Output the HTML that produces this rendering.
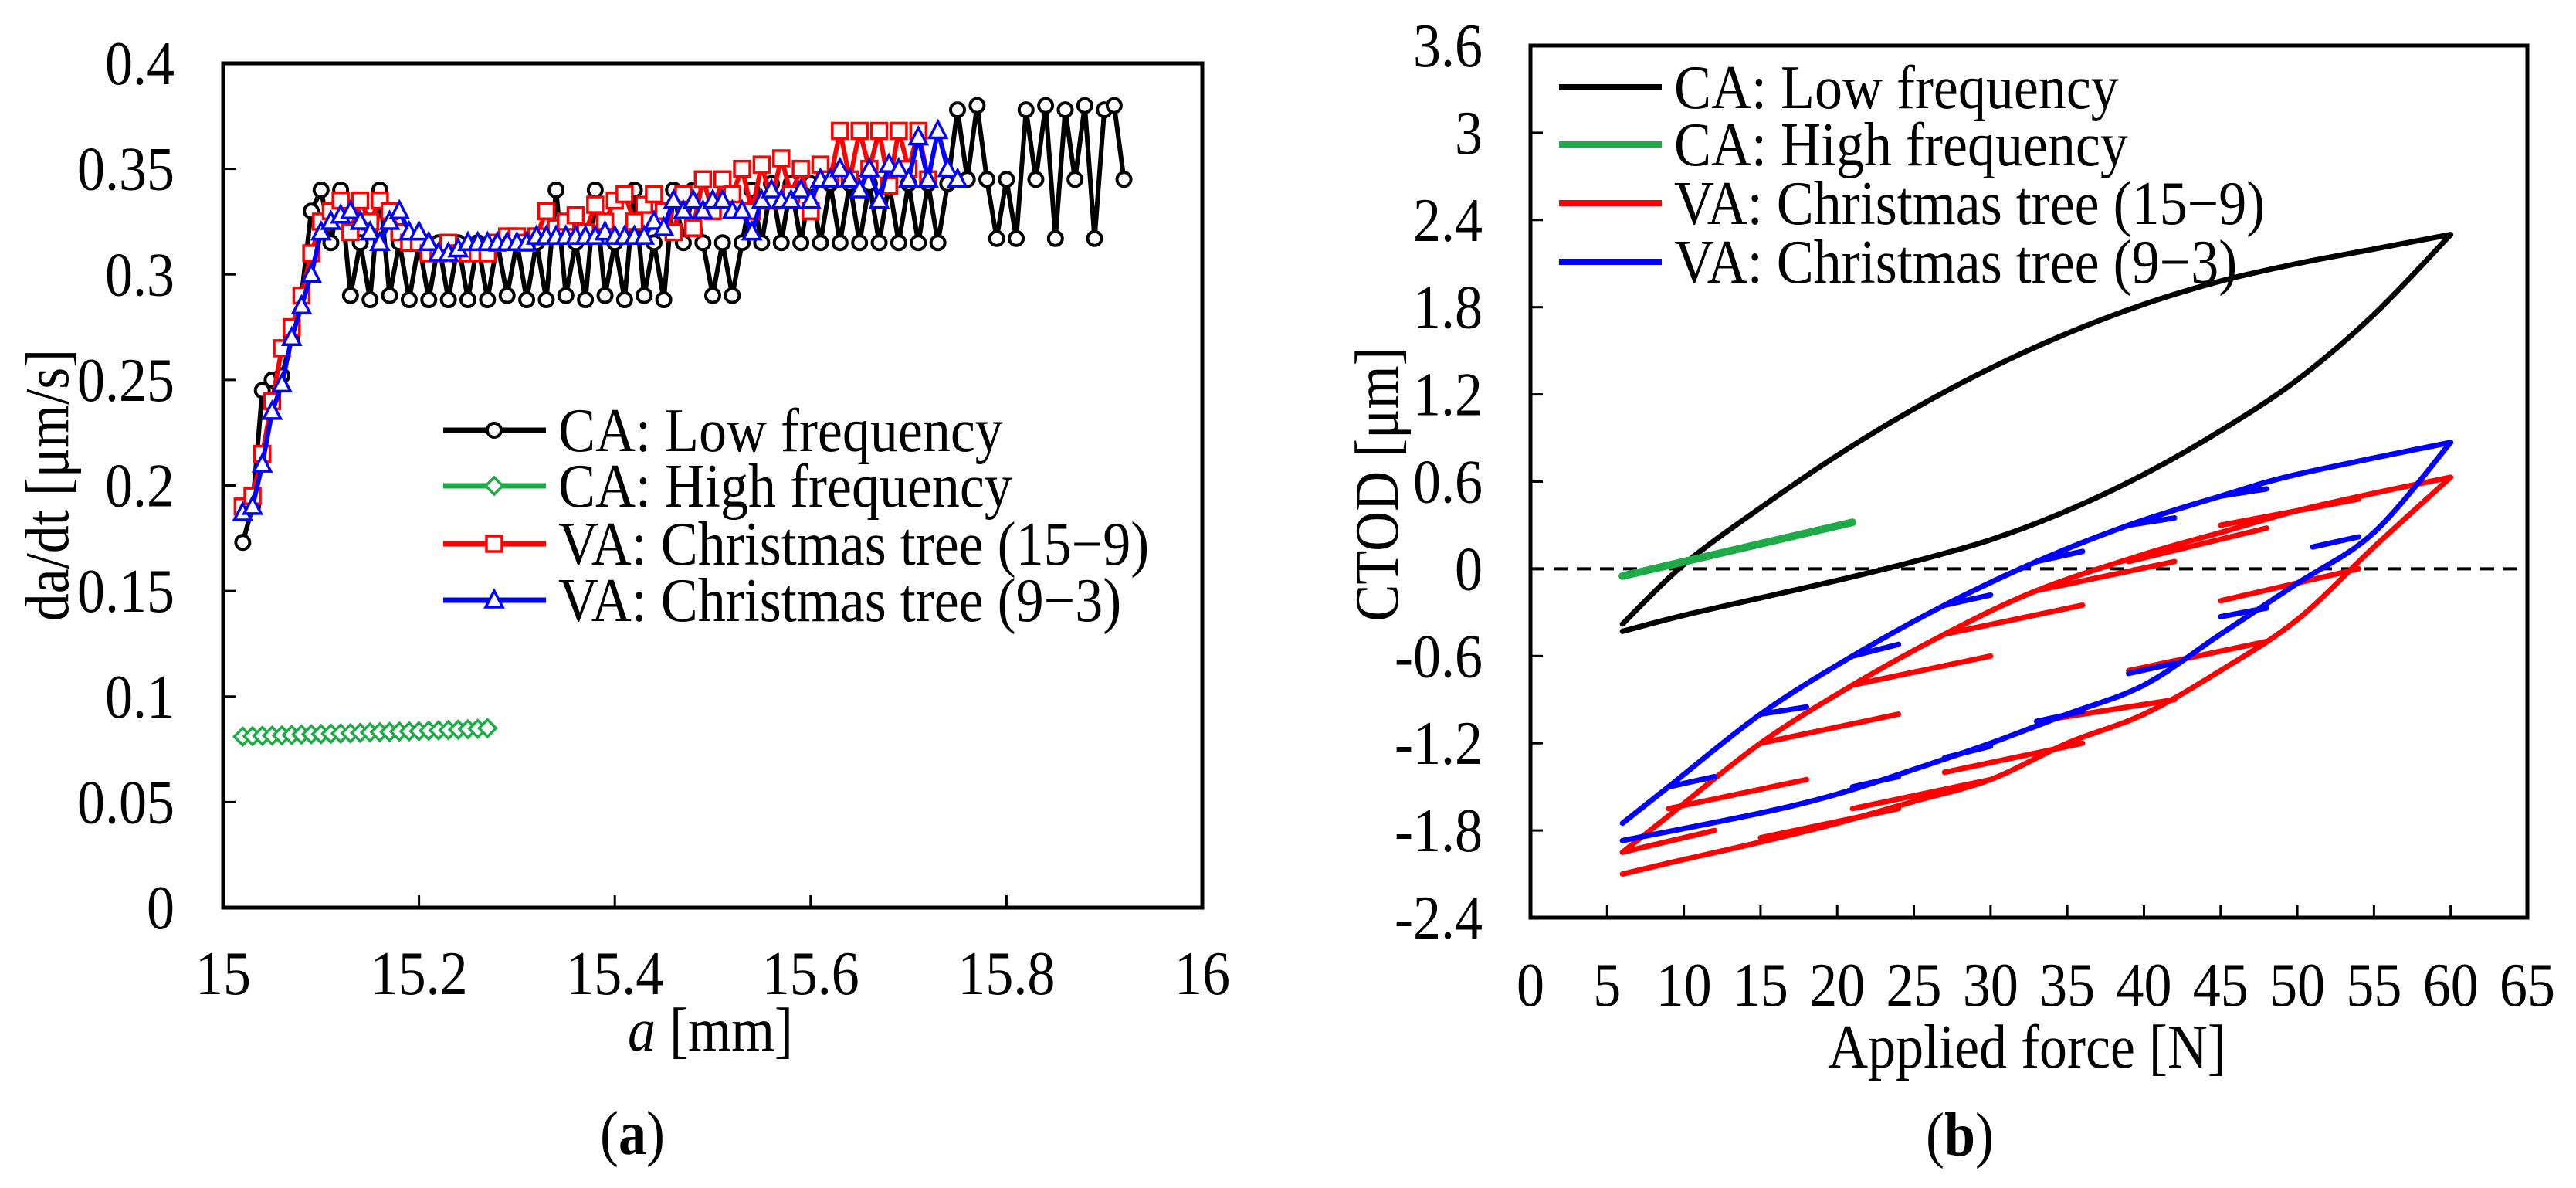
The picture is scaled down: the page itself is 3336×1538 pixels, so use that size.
<!DOCTYPE html>
<html><head><meta charset="utf-8">
<style>
html,body{margin:0;padding:0;background:#fff;}
svg{display:block;font-family:"Liberation Serif",serif;}
text{fill:#000;}
</style></head>
<body>
<svg id="svg" width="3336" height="1538" viewBox="0 0 3336 1538" xmlns="http://www.w3.org/2000/svg">
<g id="ga"></g>
<g id="gb"></g>
</svg>
<script>
// ---------- Chart (a) data ----------
const aXTicks = [15, 15.2, 15.4, 15.6, 15.8, 16];
const aXTickLabels = ["15", "15.2", "15.4", "15.6", "15.8", "16"];
const aYTicks = [0, 0.05, 0.1, 0.15, 0.2, 0.25, 0.3, 0.35, 0.4];
const aYTickLabels = ["0", "0.05", "0.1", "0.15", "0.2", "0.25", "0.3", "0.35", "0.4"];
const lowStart = 15.02, lowStep = 0.01;
const lowFreq = [0.173,0.19,0.245,0.25,0.252,0.27,0.29,0.33,0.34,0.315,0.34,0.29,0.315,0.288,0.34,0.29,0.315,0.288,0.315,0.288,0.315,0.288,0.315,0.288,0.315,0.288,0.315,0.29,0.315,0.288,0.315,0.288,0.34,0.29,0.315,0.288,0.34,0.29,0.315,0.288,0.34,0.29,0.315,0.288,0.34,0.315,0.34,0.315,0.29,0.315,0.29,0.315,0.34,0.315,0.343,0.315,0.343,0.315,0.343,0.315,0.343,0.315,0.343,0.315,0.343,0.315,0.343,0.315,0.343,0.315,0.343,0.315,0.343,0.378,0.345,0.38,0.345,0.317,0.345,0.317,0.378,0.345,0.38,0.317,0.378,0.345,0.38,0.317,0.378,0.38,0.345];
const highStart = 15.02, highStep = 0.01;
const highFreq = [0.081,0.0812,0.0814,0.0815,0.0816,0.0818,0.082,0.0821,0.0822,0.0824,0.0825,0.0826,0.0828,0.083,0.0831,0.0832,0.0834,0.0835,0.0836,0.0838,0.084,0.0841,0.0843,0.0845,0.0847,0.085];
const tree159Start = 15.02, tree159Step = 0.01;
const tree159 = [0.19,0.195,0.215,0.24,0.265,0.275,0.29,0.31,0.325,0.33,0.335,0.32,0.335,0.325,0.335,0.33,0.32,0.315,0.315,0.31,0.31,0.315,0.31,0.31,0.31,0.31,0.315,0.318,0.318,0.315,0.318,0.33,0.322,0.325,0.328,0.32,0.333,0.325,0.335,0.338,0.325,0.333,0.338,0.33,0.32,0.338,0.322,0.345,0.33,0.345,0.338,0.35,0.33,0.352,0.335,0.355,0.338,0.35,0.33,0.352,0.345,0.368,0.345,0.368,0.35,0.368,0.342,0.368,0.35,0.368,0.345];
const tree93Start = 15.02, tree93Step = 0.01;
const tree93 = [0.187,0.19,0.21,0.235,0.248,0.27,0.285,0.30,0.32,0.325,0.328,0.33,0.325,0.32,0.315,0.325,0.33,0.32,0.32,0.315,0.31,0.31,0.312,0.315,0.315,0.315,0.315,0.315,0.315,0.315,0.318,0.318,0.318,0.318,0.318,0.318,0.318,0.32,0.318,0.318,0.318,0.318,0.325,0.322,0.335,0.33,0.335,0.33,0.335,0.335,0.33,0.33,0.32,0.335,0.34,0.335,0.335,0.34,0.335,0.345,0.345,0.35,0.345,0.34,0.35,0.335,0.352,0.35,0.345,0.365,0.345,0.368,0.35,0.345];

// ---------- Chart (b) data ----------
const bXTicks = [0,5,10,15,20,25,30,35,40,45,50,55,60,65];
const bYTicks = [-2.4,-1.8,-1.2,-0.6,0,0.6,1.2,1.8,2.4,3,3.6];
const bYTickLabels = ["-2.4","-1.8","-1.2","-0.6","0","0.6","1.2","1.8","2.4","3","3.6"];
const caLowForce = [6,10,15,20,25,30,35,40,45,50,55,60,55,50,45,40,35,30,25,20,15,10,6];
const caLowCtod = [-0.38,0.03,0.42,0.78,1.1,1.38,1.62,1.82,1.98,2.1,2.2,2.3,1.75,1.3,0.95,0.65,0.4,0.2,0.05,-0.08,-0.2,-0.32,-0.43];
const caHighForce = [6,21];
const caHighCtod = [-0.05,0.32];
const redForce = [6,9,15,21,27,33,40,45,50,55,60,55,50,45,40,35,30,25,20,15,10,6];
const redCtod = [-1.95,-1.7,-1.2,-0.8,-0.45,-0.15,0.1,0.25,0.4,0.52,0.63,0.15,-0.35,-0.7,-1.0,-1.2,-1.45,-1.6,-1.75,-1.88,-2.0,-2.1];
const redSegF1 = [9,15,21,27,33,39,45,45,39,33,27,21,15,6];
const redSegC1 = [-1.65,-1.2,-0.8,-0.45,-0.15,0.05,0.3,-0.22,-0.7,-1.05,-1.4,-1.65,-1.85,-1.95];
const redSegF2 = [18,24,30,36,42,48,54,54,48,42,36,30,24,12];
const redSegC2 = [-1.45,-1.0,-0.6,-0.25,0.05,0.28,0.48,0.0,-0.5,-0.9,-1.2,-1.45,-1.65,-1.8];
const blueForce = [6,9,15,21,27,33,39,45,50,60,55,50,45,40,35,30,25,20,15,6];
const blueCtod = [-1.75,-1.5,-1.0,-0.6,-0.25,0.05,0.3,0.5,0.65,0.87,0.25,-0.1,-0.45,-0.8,-1.0,-1.2,-1.38,-1.55,-1.68,-1.87];
const blueSegF1 = [9,15,21,27,33,39,45,51,45,39,33,27,21];
const blueSegC1 = [-1.5,-1.0,-0.6,-0.25,0.05,0.3,0.5,0.15,-0.33,-0.72,-1.05,-1.3,-1.5];
const blueSegF2 = [12,18,24,30,36,42,48,54,48,42,36,30,24];
const blueSegC2 = [-1.43,-0.95,-0.52,-0.18,0.12,0.35,0.55,0.22,-0.27,-0.65,-0.98,-1.22,-1.43];

const NS = "http://www.w3.org/2000/svg";
function mk(tag, attrs, parent){const e=document.createElementNS(NS,tag);for(const k in attrs)e.setAttribute(k,attrs[k]);parent.appendChild(e);return e;}
const FS = 80;
const allTexts = [];
function txt(attrs,parent,content,html){const t=mk('text',attrs,parent);if(html)t.innerHTML=content;else t.textContent=content;allTexts.push(t);return t;}

// ===== Chart A =====
const ga = document.getElementById('ga');
const aL=289,aR=1557,aT=82,aB=1175;
const ax = v => aL + (v-15)/(16-15)*(aR-aL);
const ay = v => aB - (v-0)/(0.4)*(aB-aT);
aXTicks.forEach((t,i)=>{
  if(i>0 && i<aXTicks.length-1){const tk=mk('line',{x1:ax(t),x2:ax(t),y1:aB,y2:aB-16,stroke:'#000','stroke-width':3},ga);
  
  }
  const lb=txt({x:ax(t),y:1287,'font-size':FS,'text-anchor':'middle'},ga,aXTickLabels[i]);
  
  
});
aYTicks.forEach((t,i)=>{
  if(i>0 && i<aYTicks.length-1){const tk=mk('line',{x1:aL,x2:aL+16,y1:ay(t),y2:ay(t),stroke:'#000','stroke-width':3},ga);
  
  }
  const lb=txt({x:226,y:ay(t)+27,'font-size':FS,'text-anchor':'end'},ga,aYTickLabels[i]);
  
  
});
function seriesA(vals,start,step,color,marker,name){
  const g=mk('g',{},ga);
  
  
  const pts=vals.map((v,i)=>[ax(start+i*step),ay(v)]);
  mk('polyline',{points:pts.map(p=>p.join(',')).join(' '),fill:'none',stroke:color,'stroke-width':6,'stroke-linejoin':'round'},g);
  pts.forEach(p=>drawMarker(g,p[0],p[1],color,marker));
}
function drawMarker(g,x,y,color,marker){
  let m;
  if(marker==='circle') m=mk('circle',{cx:x,cy:y,r:9,fill:'#fff',stroke:color,'stroke-width':4},g);
  else if(marker==='diamond') m=mk('polygon',{points:`${x},${y-11} ${x+11},${y} ${x},${y+11} ${x-11},${y}`,fill:'#fff',stroke:color,'stroke-width':3.5},g);
  else if(marker==='square') m=mk('rect',{x:x-10,y:y-10,width:20,height:20,fill:'#fff',stroke:color,'stroke-width':3.5},g);
  else m=mk('polygon',{points:`${x},${y-12} ${x+11},${y+9} ${x-11},${y+9}`,fill:'#fff',stroke:color,'stroke-width':3.5},g);
  
  
}
seriesA(highFreq,highStart,highStep,'#1faa48','diamond','series-ca-high-frequency');
seriesA(lowFreq,lowStart,lowStep,'#000','circle','series-ca-low-frequency');
seriesA(tree159,tree159Start,tree159Step,'#ff0000','square','series-va-christmas-15-9');
seriesA(tree93,tree93Start,tree93Step,'#0000ff','triangle','series-va-christmas-9-3');
const aFrame=mk('rect',{x:aL,y:aT,width:aR-aL,height:aB-aT,fill:'none',stroke:'#000','stroke-width':5},ga);


const aLeg=[['CA: Low frequency','#000','circle'],['CA: High frequency','#1faa48','diamond'],['VA: Christmas tree (15\u22129)','#ff0000','square'],['VA: Christmas tree (9\u22123)','#0000ff','triangle']];
const aLegY=[557,629,704,777];
aLeg.forEach((e,i)=>{
  const g=mk('g',{},ga);
  
  
  mk('line',{x1:574,x2:707,y1:aLegY[i],y2:aLegY[i],stroke:e[1],'stroke-width':7},g);
  drawMarker(g,640,aLegY[i],e[1],e[2]);
  txt({x:723,y:aLegY[i]+27,'font-size':80},g,e[0]);
});
const aYT=txt({x:0,y:0,'font-size':FS,'text-anchor':'middle',transform:'translate(88,628) rotate(-90)'},ga,'da/dt [\u03bcm/s]');


const aXT=txt({x:920,y:1360,'font-size':FS,'text-anchor':'middle'},ga,'<tspan font-style="italic">a</tspan> [mm]',true);


const aCap=txt({x:819,y:1494,'font-size':FS,'text-anchor':'middle'},ga,'(<tspan font-weight="bold">a</tspan>)',true);



// ===== Chart B =====
const gb=document.getElementById('gb');
const bL=1982,bR=3273,bT=59,bB=1188;
const bx=v=>bL+(v-0)/65*(bR-bL);
const by=v=>bB-(v+2.4)/6.0*(bB-bT);
bXTicks.forEach(t=>{
  if(t>0&&t<65){const tk=mk('line',{x1:bx(t),x2:bx(t),y1:bB,y2:bB-16,stroke:'#000','stroke-width':3},gb);
  
  }
  const lb=txt({x:bx(t),y:1302,'font-size':FS,'text-anchor':'middle'},gb,String(t));
  
  
});
bYTicks.forEach((t,i)=>{
  if(i>0&&i<bYTicks.length-1){const tk=mk('line',{x1:bL,x2:bL+16,y1:by(t),y2:by(t),stroke:'#000','stroke-width':3},gb);
  
  }
  const lb=txt({x:1920,y:by(t)+27,'font-size':FS,'text-anchor':'end'},gb,bYTickLabels[i]);
  
  
});
const zl=mk('line',{x1:bL,x2:bR,y1:by(0),y2:by(0),stroke:'#000','stroke-width':4,'stroke-dasharray':'18,12'},gb);


function smoothD(pts){
  let d='M'+pts[0][0]+','+pts[0][1];
  for(let i=0;i<pts.length-1;i++){
    const p0=pts[Math.max(0,i-1)],p1=pts[i],p2=pts[i+1],p3=pts[Math.min(pts.length-1,i+2)];
    const c1=[p1[0]+(p2[0]-p0[0])/6,p1[1]+(p2[1]-p0[1])/6];
    const c2=[p2[0]-(p3[0]-p1[0])/6,p2[1]-(p3[1]-p1[1])/6];
    d+=` C${c1[0]},${c1[1]} ${c2[0]},${c2[1]} ${p2[0]},${p2[1]}`;
  }
  return d;
}
function lineB(fs,cs,color,name,w){
  const pts=fs.map((f,i)=>[bx(f),by(cs[i])]);
  let k=0;fs.forEach((f,i)=>{if(f>fs[k])k=i;});
  const d=smoothD(pts.slice(0,k+1))+' '+smoothD(pts.slice(k));
  const p=mk('path',{d:d,fill:'none',stroke:color,'stroke-width':w,'stroke-linejoin':'round','stroke-linecap':'round'},gb);
  
  
}
function segsB(f1,c1,f2,c2,color,name){
  f1.forEach((f,i)=>{
    const s=mk('line',{x1:bx(f),y1:by(c1[i]),x2:bx(f2[i]),y2:by(c2[i]),stroke:color,'stroke-width':7,'stroke-linecap':'round'},gb);
    
    
  });
}
lineB(caLowForce,caLowCtod,'#000','series-ca-low-frequency',7);
lineB(redForce,redCtod,'#ff0000','series-va-christmas-15-9',7);
segsB(redSegF1,redSegC1,redSegF2,redSegC2,'#ff0000','red-subcycle');
lineB(blueForce,blueCtod,'#0000ff','series-va-christmas-9-3',7);
segsB(blueSegF1,blueSegC1,blueSegF2,blueSegC2,'#0000ff','blue-subcycle');
const gl=mk('line',{x1:bx(caHighForce[0]),y1:by(caHighCtod[0]),x2:bx(caHighForce[1]),y2:by(caHighCtod[1]),stroke:'#1faa48','stroke-width':10,'stroke-linecap':'round'},gb);


const bFrame=mk('rect',{x:bL,y:bT,width:bR-bL,height:bB-bT,fill:'none',stroke:'#000','stroke-width':5},gb);


const bLeg=[['CA: Low frequency','#000'],['CA: High frequency','#1faa48'],['VA: Christmas tree (15\u22129)','#ff0000'],['VA: Christmas tree (9\u22123)','#0000ff']];
const bLegY=[113,187,263,339];
bLeg.forEach((e,i)=>{
  const g=mk('g',{},gb);
  
  
  mk('line',{x1:2019,x2:2152,y1:bLegY[i],y2:bLegY[i],stroke:e[1],'stroke-width':8},g);
  txt({x:2168,y:bLegY[i]+27,'font-size':80},g,e[0]);
});
const bYT=txt({x:0,y:0,'font-size':FS,'text-anchor':'middle',transform:'translate(1810,627) rotate(-90)'},gb,'CTOD [\u03bcm]');


const bXT=txt({x:2625,y:1382,'font-size':FS,'text-anchor':'middle'},gb,'Applied force [N]');


const bCap=txt({x:2538,y:1496,'font-size':FS,'text-anchor':'middle'},gb,'(<tspan font-weight="bold">b</tspan>)',true);



// condense text horizontally to match the narrower reference typeface
allTexts.forEach(t=>{
  const w=t.getComputedTextLength();
  if(w>0){t.setAttribute('textLength',(w*0.9).toFixed(1));t.setAttribute('lengthAdjust','spacingAndGlyphs');}
});
</script>
</body></html>
